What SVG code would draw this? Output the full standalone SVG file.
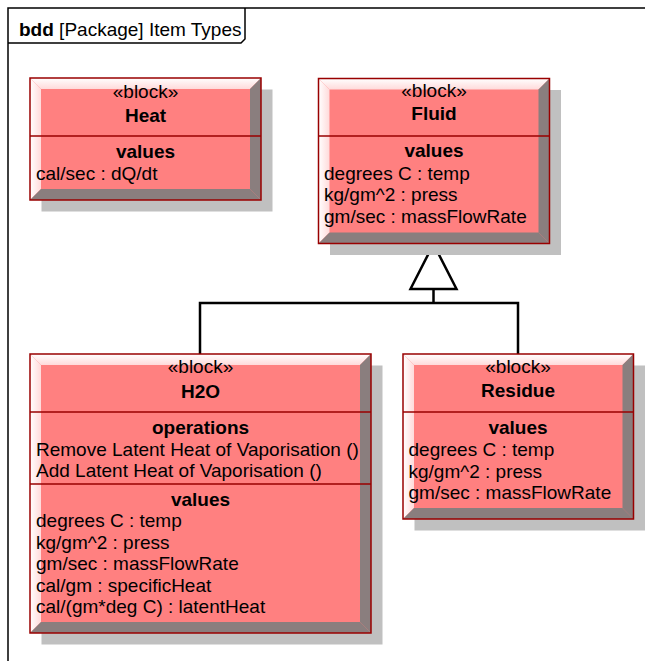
<svg xmlns="http://www.w3.org/2000/svg" width="645" height="661" viewBox="0 0 645 661">
<style>
text{font-family:"Liberation Sans",Arial,sans-serif;font-size:19px;fill:#000}
.c{text-anchor:middle}
.b{font-weight:bold}
.sh{fill:#c0c0c0}
.face{fill:#ff8080}
.lt{fill:url(#lg)}
.ll{fill:url(#lgl)}
.dk{fill:#8a7e7e}
.bd{fill:none;stroke:#990000;stroke-width:1.5}
.sep{stroke:#990000;stroke-width:1.5}
.frame{fill:none;stroke:#000;stroke-width:1.5}
.conn{fill:none;stroke:#000;stroke-width:2.5;stroke-linejoin:miter}
</style>
<defs>
<linearGradient id="lg" x1="0" y1="0" x2="0" y2="1"><stop offset="0" stop-color="#ffffff"/><stop offset="1" stop-color="#ffdada"/></linearGradient>
<linearGradient id="lgl" x1="0" y1="0" x2="1" y2="0"><stop offset="0" stop-color="#ffffff"/><stop offset="1" stop-color="#ffdada"/></linearGradient>
</defs>
<rect width="645" height="661" fill="#fff"/>
<g id="frame">
<path class="frame" d="M645 8H8V661"/>
<path class="frame" d="M8 43H241L245 39V8"/>
<text x="19" y="36"><tspan class="b">bdd</tspan> [Package] Item Types</text>
</g>
<g id="connectors">
<path class="conn" d="M200 354V303H518V354M433.5 303V289"/>
<polygon class="conn" points="433.5,244 456.5,289 410.5,289" fill="#fff"/>
</g>
<g id="heat">
<rect class="sh" x="41.5" y="89.5" width="231" height="122"/>
<rect class="face" x="30" y="78" width="231" height="122"/>
<polygon class="lt" points="30,78 261,78 250,89 41,89"/>
<polygon class="ll" points="30,78 41,89 41,189 30,200"/>
<polygon class="dk" points="261,78 261,200 250,189 250,89"/>
<polygon class="dk" points="30,200 261,200 250,189 41,189"/>
<rect class="bd" x="30" y="78" width="231" height="122"/>
<line class="sep" x1="30" y1="136" x2="261" y2="136"/>
<text class="c" x="145.5" y="97.5">«block»</text>
<text class="c b" x="145.5" y="121.5">Heat</text>
<text class="c b" x="145.5" y="157.5">values</text>
<text x="36" y="179.5">cal/sec : dQ/dt</text>
</g>
<g id="fluid">
<rect class="sh" x="330" y="90" width="231" height="165"/>
<rect class="face" x="318.5" y="78.5" width="231" height="165"/>
<polygon class="lt" points="318.5,78.5 549.5,78.5 538.5,89.5 329.5,89.5"/>
<polygon class="ll" points="318.5,78.5 329.5,89.5 329.5,232.5 318.5,243.5"/>
<polygon class="dk" points="549.5,78.5 549.5,243.5 538.5,232.5 538.5,89.5"/>
<polygon class="dk" points="318.5,243.5 549.5,243.5 538.5,232.5 329.5,232.5"/>
<rect class="bd" x="318.5" y="78.5" width="231" height="165"/>
<line class="sep" x1="318.5" y1="136" x2="549.5" y2="136"/>
<text class="c" x="434" y="96.5">«block»</text>
<text class="c b" x="434" y="120">Fluid</text>
<text class="c b" x="434" y="157">values</text>
<text x="324" y="179.5">degrees C : temp</text>
<text x="324" y="201">kg/gm^2 : press</text>
<text x="324" y="222.5">gm/sec : massFlowRate</text>
</g>
<g id="h2o">
<rect class="sh" x="41.5" y="365.5" width="341" height="279"/>
<rect class="face" x="30" y="354" width="341" height="279"/>
<polygon class="lt" points="30,354 371,354 360,365 41,365"/>
<polygon class="ll" points="30,354 41,365 41,622 30,633"/>
<polygon class="dk" points="371,354 371,633 360,622 360,365"/>
<polygon class="dk" points="30,633 371,633 360,622 41,622"/>
<rect class="bd" x="30" y="354" width="341" height="279"/>
<line class="sep" x1="30" y1="412" x2="371" y2="412"/>
<line class="sep" x1="30" y1="484" x2="371" y2="484"/>
<text class="c" x="200.5" y="373">«block»</text>
<text class="c b" x="200.5" y="398">H2O</text>
<text class="c b" x="200.5" y="434">operations</text>
<text x="36" y="455.5">Remove Latent Heat of Vaporisation ()</text>
<text x="36" y="477">Add Latent Heat of Vaporisation ()</text>
<text class="c b" x="200.5" y="506">values</text>
<text x="36" y="527">degrees C : temp</text>
<text x="36" y="548.5">kg/gm^2 : press</text>
<text x="36" y="570">gm/sec : massFlowRate</text>
<text x="36" y="591.5">cal/gm : specificHeat</text>
<text x="36" y="613">cal/(gm*deg C) : latentHeat</text>
</g>
<g id="residue">
<rect class="sh" x="414.5" y="365.5" width="230.5" height="165"/>
<rect class="face" x="403" y="354" width="230.5" height="165"/>
<polygon class="lt" points="403,354 633.5,354 622.5,365 414,365"/>
<polygon class="ll" points="403,354 414,365 414,508 403,519"/>
<polygon class="dk" points="633.5,354 633.5,519 622.5,508 622.5,365"/>
<polygon class="dk" points="403,519 633.5,519 622.5,508 414,508"/>
<rect class="bd" x="403" y="354" width="230.5" height="165"/>
<line class="sep" x1="403" y1="412" x2="633.5" y2="412"/>
<text class="c" x="518" y="372.5">«block»</text>
<text class="c b" x="518" y="397">Residue</text>
<text class="c b" x="518" y="434">values</text>
<text x="408.5" y="456">degrees C : temp</text>
<text x="408.5" y="477.5">kg/gm^2 : press</text>
<text x="408.5" y="498.5">gm/sec : massFlowRate</text>
</g>
</svg>
